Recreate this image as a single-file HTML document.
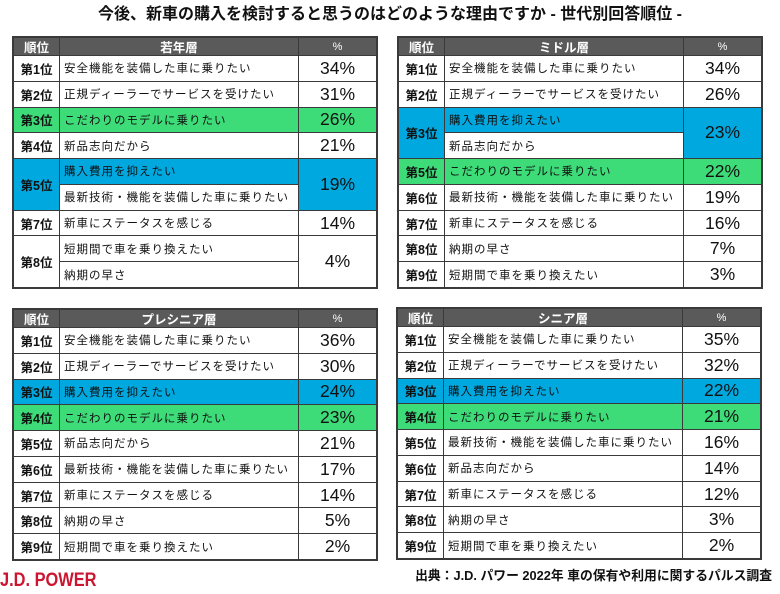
<!DOCTYPE html>
<html lang="ja">
<head>
<meta charset="utf-8">
<style>
  html,body{margin:0;padding:0;}
  body{width:780px;height:594px;background:#fff;position:relative;overflow:hidden;
       font-family:"Liberation Sans","Noto Sans CJK JP",sans-serif;color:#111;}
  .title{position:absolute;left:0;top:5px;width:780px;text-align:center;font-size:16px;font-weight:bold;line-height:20px;color:#111;}
  .tbl{position:absolute;width:366px;height:253px;box-sizing:border-box;border:2px solid #3a3a3a;background:#3a3a3a;
       display:grid;grid-template-columns:45px 238px 77px;grid-template-rows:17px repeat(9,1fr);gap:1px;}
  .tbl>div{background:#fff;display:flex;align-items:center;overflow:hidden;white-space:nowrap;}
  .h{background:#5a5a5a !important;color:#fff;font-weight:bold;font-size:12.5px;justify-content:center;}
  .h.p{font-weight:normal;font-size:11px;}
  .r{justify-content:center;font-weight:bold;font-size:12.5px;}
  .t{padding-left:4px;font-size:11.5px;letter-spacing:1px;}
  .p{justify-content:center;font-size:17.5px;}
  .g{background:#3ddc78 !important;}
  .b{background:#00a8e0 !important;}
  .s2{grid-row:span 2;}
  .foot{position:absolute;right:8px;top:568px;font-size:12.8px;font-weight:bold;line-height:16px;color:#111;}
  .logo{position:absolute;left:0;top:569px;font-size:19.5px;font-weight:bold;color:#cc1531;line-height:22px;transform:scaleX(0.84);transform-origin:0 0;}
</style>
</head>
<body>
<div class="title">今後、新車の購入を検討すると思うのはどのような理由ですか - 世代別回答順位 -</div>

<div class="tbl" style="left:12px;top:36px;">
  <div class="h">順位</div><div class="h">若年層</div><div class="h p">%</div>
  <div class="r">第1位</div><div class="t">安全機能を装備した車に乗りたい</div><div class="p">34%</div>
  <div class="r">第2位</div><div class="t">正規ディーラーでサービスを受けたい</div><div class="p">31%</div>
  <div class="r g">第3位</div><div class="t g">こだわりのモデルに乗りたい</div><div class="p g">26%</div>
  <div class="r">第4位</div><div class="t">新品志向だから</div><div class="p">21%</div>
  <div class="r b s2">第5位</div><div class="t b">購入費用を抑えたい</div><div class="p b s2">19%</div>
  <div class="t">最新技術・機能を装備した車に乗りたい</div>
  <div class="r">第7位</div><div class="t">新車にステータスを感じる</div><div class="p">14%</div>
  <div class="r s2">第8位</div><div class="t">短期間で車を乗り換えたい</div><div class="p s2">4%</div>
  <div class="t">納期の早さ</div>
</div>

<div class="tbl" style="left:397px;top:36px;">
  <div class="h">順位</div><div class="h">ミドル層</div><div class="h p">%</div>
  <div class="r">第1位</div><div class="t">安全機能を装備した車に乗りたい</div><div class="p">34%</div>
  <div class="r">第2位</div><div class="t">正規ディーラーでサービスを受けたい</div><div class="p">26%</div>
  <div class="r b s2">第3位</div><div class="t b">購入費用を抑えたい</div><div class="p b s2">23%</div>
  <div class="t">新品志向だから</div>
  <div class="r g">第5位</div><div class="t g">こだわりのモデルに乗りたい</div><div class="p g">22%</div>
  <div class="r">第6位</div><div class="t">最新技術・機能を装備した車に乗りたい</div><div class="p">19%</div>
  <div class="r">第7位</div><div class="t">新車にステータスを感じる</div><div class="p">16%</div>
  <div class="r">第8位</div><div class="t">納期の早さ</div><div class="p">7%</div>
  <div class="r">第9位</div><div class="t">短期間で車を乗り換えたい</div><div class="p">3%</div>
</div>

<div class="tbl" style="left:12px;top:308px;">
  <div class="h">順位</div><div class="h">プレシニア層</div><div class="h p">%</div>
  <div class="r">第1位</div><div class="t">安全機能を装備した車に乗りたい</div><div class="p">36%</div>
  <div class="r">第2位</div><div class="t">正規ディーラーでサービスを受けたい</div><div class="p">30%</div>
  <div class="r b">第3位</div><div class="t b">購入費用を抑えたい</div><div class="p b">24%</div>
  <div class="r g">第4位</div><div class="t g">こだわりのモデルに乗りたい</div><div class="p g">23%</div>
  <div class="r">第5位</div><div class="t">新品志向だから</div><div class="p">21%</div>
  <div class="r">第6位</div><div class="t">最新技術・機能を装備した車に乗りたい</div><div class="p">17%</div>
  <div class="r">第7位</div><div class="t">新車にステータスを感じる</div><div class="p">14%</div>
  <div class="r">第8位</div><div class="t">納期の早さ</div><div class="p">5%</div>
  <div class="r">第9位</div><div class="t">短期間で車を乗り換えたい</div><div class="p">2%</div>
</div>

<div class="tbl" style="left:396px;top:307px;">
  <div class="h">順位</div><div class="h">シニア層</div><div class="h p">%</div>
  <div class="r">第1位</div><div class="t">安全機能を装備した車に乗りたい</div><div class="p">35%</div>
  <div class="r">第2位</div><div class="t">正規ディーラーでサービスを受けたい</div><div class="p">32%</div>
  <div class="r b">第3位</div><div class="t b">購入費用を抑えたい</div><div class="p b">22%</div>
  <div class="r g">第4位</div><div class="t g">こだわりのモデルに乗りたい</div><div class="p g">21%</div>
  <div class="r">第5位</div><div class="t">最新技術・機能を装備した車に乗りたい</div><div class="p">16%</div>
  <div class="r">第6位</div><div class="t">新品志向だから</div><div class="p">14%</div>
  <div class="r">第7位</div><div class="t">新車にステータスを感じる</div><div class="p">12%</div>
  <div class="r">第8位</div><div class="t">納期の早さ</div><div class="p">3%</div>
  <div class="r">第9位</div><div class="t">短期間で車を乗り換えたい</div><div class="p">2%</div>
</div>

<div class="logo">J.D. POWER</div>
<div class="foot">出典：J.D. パワー 2022年 車の保有や利用に関するパルス調査</div>
</body>
</html>
